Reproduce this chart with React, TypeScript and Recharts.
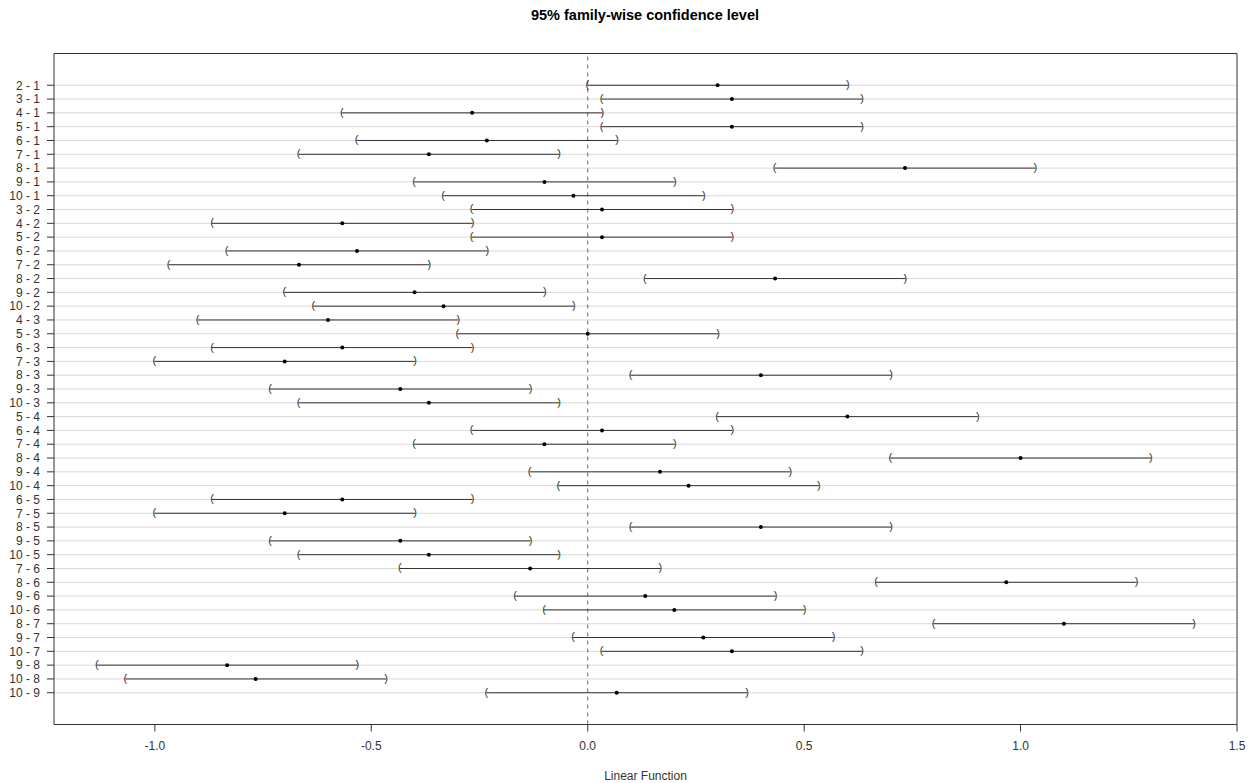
import React from "react";
import {
  ScatterChart,
  Scatter,
  XAxis,
  YAxis,
  CartesianGrid,
  ReferenceLine,
  Label,
} from "recharts";

const comparisons: string[] = [
  "2 - 1", "3 - 1", "4 - 1", "5 - 1", "6 - 1", "7 - 1", "8 - 1", "9 - 1", "10 - 1",
  "3 - 2", "4 - 2", "5 - 2", "6 - 2", "7 - 2", "8 - 2", "9 - 2", "10 - 2",
  "4 - 3", "5 - 3", "6 - 3", "7 - 3", "8 - 3", "9 - 3", "10 - 3",
  "5 - 4", "6 - 4", "7 - 4", "8 - 4", "9 - 4", "10 - 4",
  "6 - 5", "7 - 5", "8 - 5", "9 - 5", "10 - 5",
  "7 - 6", "8 - 6", "9 - 6", "10 - 6",
  "8 - 7", "9 - 7", "10 - 7",
  "9 - 8", "10 - 8",
  "10 - 9",
];

const estimates: number[] = [
  0.300, 0.333, -0.267, 0.333, -0.233, -0.367, 0.733, -0.100, -0.033,
  0.033, -0.567, 0.033, -0.533, -0.667, 0.433, -0.400, -0.333,
  -0.600, 0.000, -0.567, -0.700, 0.400, -0.433, -0.367,
  0.600, 0.033, -0.100, 1.000, 0.167, 0.233,
  -0.567, -0.700, 0.400, -0.433, -0.367,
  -0.133, 0.967, 0.133, 0.200,
  1.100, 0.267, 0.333,
  -0.833, -0.767,
  0.067,
];

const lowerBounds: number[] = [
  -0.001, 0.032, -0.568, 0.032, -0.534, -0.668, 0.432, -0.401, -0.334,
  -0.268, -0.868, -0.268, -0.834, -0.968, 0.132, -0.701, -0.634,
  -0.901, -0.301, -0.868, -1.001, 0.099, -0.734, -0.668,
  0.299, -0.268, -0.401, 0.699, -0.134, -0.068,
  -0.868, -1.001, 0.099, -0.734, -0.668,
  -0.434, 0.666, -0.168, -0.101,
  0.799, -0.034, 0.032,
  -1.134, -1.068,
  -0.234,
];

const upperBounds: number[] = [
  0.601, 0.634, 0.034, 0.634, 0.068, -0.066, 1.034, 0.201, 0.268,
  0.334, -0.266, 0.334, -0.232, -0.366, 0.734, -0.099, -0.032,
  -0.299, 0.301, -0.266, -0.399, 0.701, -0.132, -0.066,
  0.901, 0.334, 0.201, 1.301, 0.468, 0.534,
  -0.266, -0.399, 0.701, -0.132, -0.066,
  0.168, 1.268, 0.434, 0.501,
  1.401, 0.568, 0.634,
  -0.532, -0.466,
  0.368,
];

const xTicks: number[] = [-1.0, -0.5, 0.0, 0.5, 1.0, 1.5];

const N = comparisons.length;
const rowOf = (i: number) => N - i;
const rowTicks = comparisons.map((_, i) => rowOf(i));

const estData = estimates.map((v, i) => ({ x: v, y: rowOf(i) }));
const lwrData = lowerBounds.map((v, i) => ({ x: v, y: rowOf(i) }));
const uprData = upperBounds.map((v, i) => ({ x: v, y: rowOf(i) }));

const X_MIN = -1.233;
const X_MAX = 1.5;
const Y_MIN = -1.3;
const Y_MAX = N + 2.3;

const INK = "#333333";
const FONT = "'Liberation Sans', Arial, Helvetica, sans-serif";

const ParenShape = (ch: string) => (props: any) => {
  const { cx, cy } = props;
  if (cx == null || cy == null) return <g />;
  return (
    <text
      x={cx}
      y={cy}
      dy="0.27em"
      textAnchor="middle"
      fontSize={11}
      fill={INK}
      fontFamily={FONT}
    >
      {ch}
    </text>
  );
};

const DotShape = (props: any) => {
  const { cx, cy } = props;
  if (cx == null || cy == null) return <g />;
  return <circle cx={cx} cy={cy} r={2} fill="#000" />;
};

export default function App() {
  return (
    <div
      style={{
        position: "absolute",
        left: 0,
        top: 0,
        width: 1251,
        height: 783,
        background: "#fff",
        fontFamily: FONT,
      }}
    >
      <div
        style={{
          position: "absolute",
          left: 445,
          width: 400,
          top: 7,
          lineHeight: "17px",
          textAlign: "center",
          fontWeight: "bold",
          fontSize: 14.5,
          color: "#000",
          fontFamily: FONT,
        }}
      >
        95% family-wise confidence level
      </div>
      <ScatterChart
        width={1251}
        height={783}
        margin={{ top: 53.5, right: 14, bottom: 0, left: 1 }}
      >
        <CartesianGrid
          horizontal={true}
          vertical={false}
          stroke="#d9d9d9"
          strokeWidth={1}
        />
        <XAxis
          type="number"
          dataKey="x"
          domain={[X_MIN, X_MAX]}
          ticks={xTicks}
          allowDataOverflow
          height={58.5}
          tickSize={7}
          tickMargin={10}
          axisLine={{ stroke: INK, strokeWidth: 1 }}
          tickLine={{ stroke: INK }}
          tick={{ fill: INK, fontSize: 12, fontFamily: FONT }}
          tickFormatter={(v: number) => v.toFixed(1)}
        >
          <Label
            value="Linear Function"
            position="insideBottom"
            offset={3}
            style={{ fill: INK, fontSize: 12, fontFamily: FONT }}
          />
        </XAxis>
        <YAxis
          type="number"
          dataKey="y"
          domain={[Y_MIN, Y_MAX]}
          ticks={rowTicks}
          interval={0}
          allowDataOverflow
          width={53}
          tickSize={7}
          tickMargin={7}
          axisLine={{ stroke: INK, strokeWidth: 1 }}
          tickLine={{ stroke: INK }}
          tick={{ fill: INK, fontSize: 12, fontFamily: FONT }}
          tickFormatter={(v: number) => comparisons[N - v] ?? ""}
        />
        <ReferenceLine
          segment={[
            { x: X_MIN, y: Y_MAX },
            { x: X_MAX, y: Y_MAX },
          ]}
          stroke={INK}
          strokeWidth={1}
          ifOverflow="visible"
        />
        <ReferenceLine
          segment={[
            { x: X_MAX, y: Y_MIN },
            { x: X_MAX, y: Y_MAX },
          ]}
          stroke={INK}
          strokeWidth={1}
          ifOverflow="visible"
        />
        <ReferenceLine
          x={0}
          stroke="#666"
          strokeWidth={1}
          strokeDasharray="4 4"
        />
        {comparisons.map((c, i) => (
          <ReferenceLine
            key={c}
            segment={[
              { x: lowerBounds[i], y: rowOf(i) },
              { x: upperBounds[i], y: rowOf(i) },
            ]}
            stroke={INK}
            strokeWidth={1}
          />
        ))}
        <Scatter
          data={lwrData}
          shape={ParenShape("(")}
          isAnimationActive={false}
        />
        <Scatter
          data={uprData}
          shape={ParenShape(")")}
          isAnimationActive={false}
        />
        <Scatter data={estData} shape={DotShape} isAnimationActive={false} />
      </ScatterChart>
    </div>
  );
}
